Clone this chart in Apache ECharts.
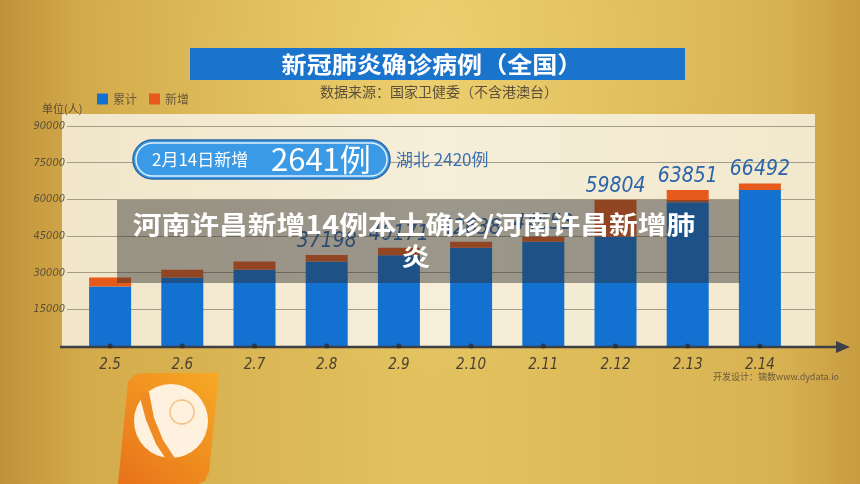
<!DOCTYPE html>
<html>
<head>
<meta charset="utf-8">
<style>html,body{margin:0;padding:0;background:#d6b04f;}#c{width:860px;height:484px;}</style>
<script src="https://cdn.jsdelivr.net/npm/echarts@6/dist/echarts.min.js"></script>
</head>
<body>
<div id="c"></div>
<script>
// ---- data ----
const categories = ['2.5','2.6','2.7','2.8','2.9','2.10','2.11','2.12','2.13','2.14'];
const priorCases = [24324, 28018, 31147, 34542, 37109, 40160, 42638, 44652, 58761, 63851]; // 累计 (blue part)
const newCases   = [3694, 3143, 3399, 2656, 3062, 2478, 2015, 15152, 5090, 2641];          // 新增 (orange part)
const totalLabels = ['', '', '', '37198', '40171', '42638', '44653', '59804', '63851', '66492'];
const tickBase = [0, 0, 0, 0, 0, 0, 0, 0, 0, 0];
const yMin = 0, yMax = 90000, yStep = 15000;

const CJK = "'Noto Sans CJK SC', sans-serif";
const NUM = "'Liberation Sans Narrow', 'DejaVu Sans Condensed', 'Liberation Sans', sans-serif";

const chart = echarts.init(document.getElementById('c'), null, {renderer: 'canvas'});

const option = {
  animation: false,
  legend: {
    data: ['累计', '新增'],
    left: 97, top: 93, padding: 0,
    itemWidth: 11, itemHeight: 11, itemGap: 12,
    icon: 'rect',
    textStyle: {fontFamily: CJK, fontSize: 12, color: '#6b5a3d'}
  },
  grid: [
    {left: 67, right: 45, top: 126, bottom: 138},
    {left: 74, right: 64, top: 126, bottom: 138}
  ],
  xAxis: [
    {gridIndex: 0, type: 'category', data: categories, show: false},
    {gridIndex: 1, type: 'category', data: categories,
     axisLine: {show: false}, axisTick: {show: false},
     axisLabel: {margin: 12, fontFamily: NUM, fontStyle: 'italic', fontSize: 15, color: '#4b4030'}}
  ],
  yAxis: [
    {gridIndex: 0, type: 'value', min: yMin, max: yMax, interval: yStep,
     axisLine: {show: false}, axisTick: {show: false},
     splitLine: {lineStyle: {color: '#a39c88', width: 1}},
     axisLabel: {margin: 2, fontFamily: NUM, fontStyle: 'italic', fontSize: 11, color: '#5c503a',
       formatter: v => v === 0 ? '' : String(v)}},
    {gridIndex: 1, type: 'value', min: yMin, max: yMax, interval: yStep, show: false}
  ],
  series: [
    {name: '累计', type: 'bar', stack: 'a', xAxisIndex: 1, yAxisIndex: 1,
     barWidth: 42, data: priorCases, itemStyle: {color: '#1372d1'}, z: 3},
    {name: '新增', type: 'bar', stack: 'a', xAxisIndex: 1, yAxisIndex: 1,
     barWidth: 42, data: newCases, itemStyle: {color: '#e65a1c'}, z: 3,
     label: {show: true, position: 'top', distance: 3,
       formatter: p => totalLabels[p.dataIndex],
       fontFamily: NUM, fontStyle: 'italic', fontSize: 21, color: '#2d65aa'}},
    {name: 'ticks', type: 'scatter', xAxisIndex: 1, yAxisIndex: 1, data: tickBase,
     symbol: 'circle', symbolSize: 5, itemStyle: {color: '#2d2d2d'}, clip: false, z: 6, silent: true}
  ],
  graphic: [
    // background
    {type: 'rect', z: -20, shape: {x: 0, y: 0, width: 860, height: 484},
     style: {fill: new echarts.graphic.LinearGradient(0, 0, 1, 0, [
       {offset: 0, color: '#c09238'}, {offset: 0.1, color: '#d4ab4b'},
       {offset: 0.5, color: '#e2c25f'}, {offset: 0.9, color: '#d9b353'}, {offset: 1, color: '#c89c40'}])}},
    {type: 'rect', z: -19, shape: {x: 0, y: 0, width: 860, height: 484},
     style: {fill: new echarts.graphic.RadialGradient(0.5, 0.1, 0.7, [
       {offset: 0, color: 'rgba(255,232,140,0.35)'}, {offset: 1, color: 'rgba(255,232,140,0)'}])}},
    // panel
    {type: 'rect', z: -10, shape: {x: 62, y: 114, width: 753, height: 233},
     style: {fill: new echarts.graphic.LinearGradient(0, 0, 1, 0, [
       {offset: 0, color: '#f1e6ca'}, {offset: 0.5, color: '#f6eed8'}, {offset: 1, color: '#f2e8cd'}])}},
    // title bar
    {type: 'rect', z: 5, shape: {x: 190, y: 48, width: 495, height: 32},
     style: {fill: '#1b74cc'}},
    {type: 'text', z: 6, x: 432, y: 64, scaleX: 1.09,
     style: {text: '新冠肺炎确诊病例（全国）', x: 0, y: 0, align: 'center', verticalAlign: 'middle',
       fontFamily: CJK, fontWeight: 'bold', fontSize: 23, fill: '#ffffff'}},
    {type: 'text', z: 6, x: 439, y: 92,
     style: {text: '数据来源：国家卫健委（不含港澳台）', align: 'center', verticalAlign: 'middle',
       fontFamily: CJK, fontSize: 14, fill: '#5a4f3a'}},
    {type: 'text', z: 6, x: 42, y: 109,
     style: {text: '单位(人)', align: 'left', verticalAlign: 'middle',
       fontFamily: CJK, fontSize: 11, fill: '#5a4d35'}},
    // callout
    {type: 'rect', z: 8, shape: {x: 133, y: 140, width: 257, height: 39, r: 19.5},
     style: {fill: '#3a9ae6', stroke: '#2b69a5', lineWidth: 1.5}},
    {type: 'rect', z: 9, shape: {x: 136, y: 143, width: 251, height: 33, r: 16.5},
     style: {fill: 'none', stroke: '#dff0ff', lineWidth: 1.5}},
    {type: 'text', z: 10, x: 152, y: 160,
     style: {text: '2月14日新增', align: 'left', verticalAlign: 'middle',
       fontFamily: CJK, fontSize: 17, fill: '#ffffff'}},
    {type: 'text', z: 10, x: 271, y: 159,
     style: {text: '2641例', align: 'left', verticalAlign: 'middle',
       fontFamily: CJK, fontSize: 31, fill: '#ffffff'}},
    {type: 'text', z: 10, x: 396, y: 160,
     style: {text: '湖北 2420例', align: 'left', verticalAlign: 'middle',
       fontFamily: CJK, fontSize: 17, fill: '#3a72b5'}},
    // x axis line with arrow
    {type: 'line', z: 5, shape: {x1: 60, y1: 347, x2: 840, y2: 347},
     style: {stroke: '#3c3f46', lineWidth: 2.5}},
    {type: 'polygon', z: 5, shape: {points: [[836, 341], [850, 347], [836, 353]]},
     style: {fill: '#3c3f46'}},
    // footer
    {type: 'text', z: 6, x: 713, y: 377,
     style: {text: '开发设计：镝数www.dydata.io', align: 'left', verticalAlign: 'middle',
       fontFamily: CJK, fontSize: 9, fill: '#6a5a3a'}},
    // logo
    {type: 'polygon', z: 7,
     shape: {points: [[128, 382], [134, 375], [142, 373], [219, 373], [209, 472], [205, 481], [198, 484], [118, 484]]},
     style: {fill: new echarts.graphic.LinearGradient(1, 0, 0, 1, [
       {offset: 0, color: '#f7aa25'}, {offset: 1, color: '#e8721a'}])}},
    {type: 'circle', z: 8, shape: {cx: 171, cy: 421, r: 37},
     style: {fill: 'rgba(255,250,240,0.92)'}},
    {type: 'polygon', z: 9,
     shape: {points: [[139, 394], [146, 420], [156, 444], [168, 462], [176, 460], [163, 440], [154, 418], [149, 392]]},
     style: {fill: '#f08a22'}},
    {type: 'circle', z: 9, shape: {cx: 182, cy: 412, r: 12},
     style: {fill: 'none', stroke: 'rgba(240,140,40,0.5)', lineWidth: 1.5}},
    // overlay band
    {type: 'rect', z: 100, shape: {x: 117, y: 200, width: 623, height: 83},
     style: {fill: 'rgba(45,45,45,0.45)'}},
    {type: 'text', z: 101, x: 414, y: 224, scaleX: 1.15,
     style: {text: '河南许昌新增14例本土确诊/河南许昌新增肺', x: 0, y: 0, align: 'center', verticalAlign: 'middle',
       fontFamily: CJK, fontWeight: 'bold', fontSize: 25, fill: '#ffffff'}},
    {type: 'text', z: 101, x: 416, y: 256, scaleX: 1.15,
     style: {text: '炎', x: 0, y: 0, align: 'center', verticalAlign: 'middle',
       fontFamily: CJK, fontWeight: 'bold', fontSize: 25, fill: '#ffffff'}}
  ]
};
chart.setOption(option);
</script>
</body>
</html>
